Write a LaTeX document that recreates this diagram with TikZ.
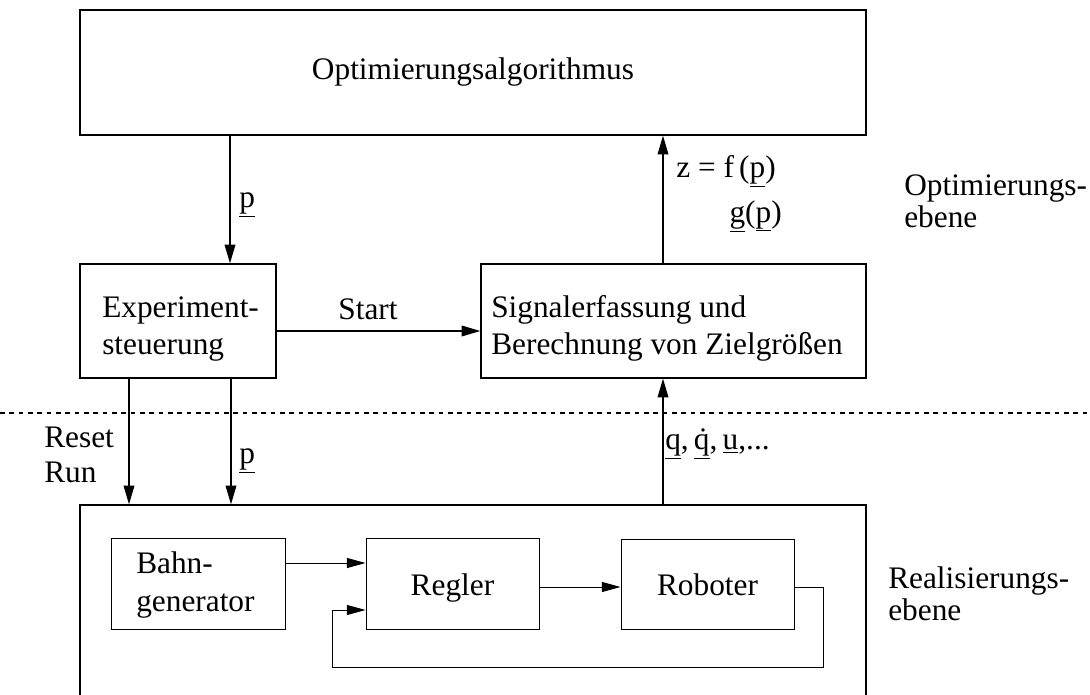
\documentclass[tikz,border=0pt]{standalone}
\usepackage{fontspec}
\setmainfont{Liberation Serif}
\usetikzlibrary{arrows.meta}
\begin{document}
\begin{tikzpicture}[x=0.75pt,y=-0.75pt,
  bigbox/.style={draw, line width=1pt, inner sep=0pt},
  smallbox/.style={draw, line width=0.7pt, inner sep=0pt},
  boxtext/.style={font=\fontsize{23.5pt}{28pt}\selectfont, inner sep=0pt},
  lbl/.style={font=\fontsize{23.5pt}{24pt}\selectfont, inner sep=0pt},
  arr/.style={line width=1pt, -{Triangle[length=14pt,width=8pt]}},
  tarr/.style={line width=0.7pt, -{Triangle[length=14pt,width=7.5pt]}},
  ]
\useasboundingbox (0,0) rectangle (1090,695);
% boxes
\node[bigbox, boxtext, minimum width=589.5pt, minimum height=93.75pt] (top) at (473,72.5) {Optimierungsalgorithmus};
\node[bigbox, minimum width=147pt, minimum height=85.5pt] (exp) at (178,321) {};
\node[bigbox, minimum width=288.75pt, minimum height=85.5pt] (sig) at (673.5,321) {};
\node[bigbox, minimum width=589.5pt, minimum height=150pt] (bot) at (473,605) {};
\node[smallbox, minimum width=130.5pt, minimum height=68.25pt] (bahn) at (198,583.5) {};
\node[smallbox, minimum width=129.75pt, minimum height=68.25pt] (regler) at (452.5,583.5) {};
\node[smallbox, minimum width=129.75pt, minimum height=67.5pt] (rob) at (707.5,584) {};
% box texts (anchor = baseline of last line)
\node[boxtext, anchor=base west, align=left] (expt) at (102,355) {Experiment-\\steuerung};
\node[boxtext, anchor=base west, align=left] (sigt) at (491,355) {Signalerfassung und\\Berechnung von Zielgrößen};
\node[boxtext, anchor=base west, align=left] (bahnt) at (136,611) {Bahn-\\generator};
\node[boxtext, anchor=base] (reglert) at (452.5,595) {Regler};
\node[boxtext, anchor=base] (robt) at (707.5,595) {Roboter};
% helper coordinates
\coordinate (pc) at (230,0);
\coordinate (zc) at (663,0);
\coordinate (st) at (0,331);
\coordinate (rc) at (129,0);
\coordinate (pc2) at (231,0);
\coordinate (by) at (0,563);
\coordinate (ry) at (0,587);
\coordinate (f1) at (823,587);
\coordinate (f2) at (332,667);
\coordinate (f3) at (0,610);
\coordinate (dl) at (0,413);
\coordinate (dr) at (1090,413);
% connectors
\draw[arr] (top.south -| pc) -- (exp.north -| pc);
\draw[arr] (sig.north -| zc) -- (top.south -| zc);
\draw[arr] (exp.east |- st) -- (sig.west |- st);
\draw[arr] (exp.south -| rc) -- (bot.north -| rc);
\draw[arr] (exp.south -| pc2) -- (bot.north -| pc2);
\draw[arr] (bot.north -| zc) -- (sig.south -| zc);
\draw[tarr] (bahn.east |- by) -- (regler.west |- by);
\draw[tarr] (regler.east |- ry) -- (rob.west |- ry);
\draw[tarr] (rob.east |- f1) -- (f1) -- (f1 |- f2) -- (f2) -- (f2 |- f3) -- (regler.west |- f3);
\draw[line width=1pt, dash pattern=on 3.5pt off 3.5pt] (dl) -- (dr);
% labels
\node[lbl, anchor=west] (lp1) at (239,205) {\underline{p}};
\node[lbl, anchor=west] (lz) at (676,171) {z = f\,(\underline{p})};
\node[lbl, anchor=east] (lg) at (782,216) {\underline{g}(\underline{p})};
\node[lbl] (lstart) at (368,309) {Start};
\node[lbl, anchor=west, align=left] (lreset) at (44,455) {Reset\\[2pt]Run};
\node[lbl, anchor=west] (lp2) at (239,461) {\underline{p}};
\node[lbl, anchor=west] (lq) at (665,444) {\underline{q},\,\underline{\.{q}},\,\underline{u},...};
\node[lbl, anchor=west, align=left] (lopt) at (904,201) {Optimierungs-\\ebene};
\node[lbl, anchor=west, align=left] (lreal) at (888,594) {Realisierungs-\\ebene};
\end{tikzpicture}
\end{document}
